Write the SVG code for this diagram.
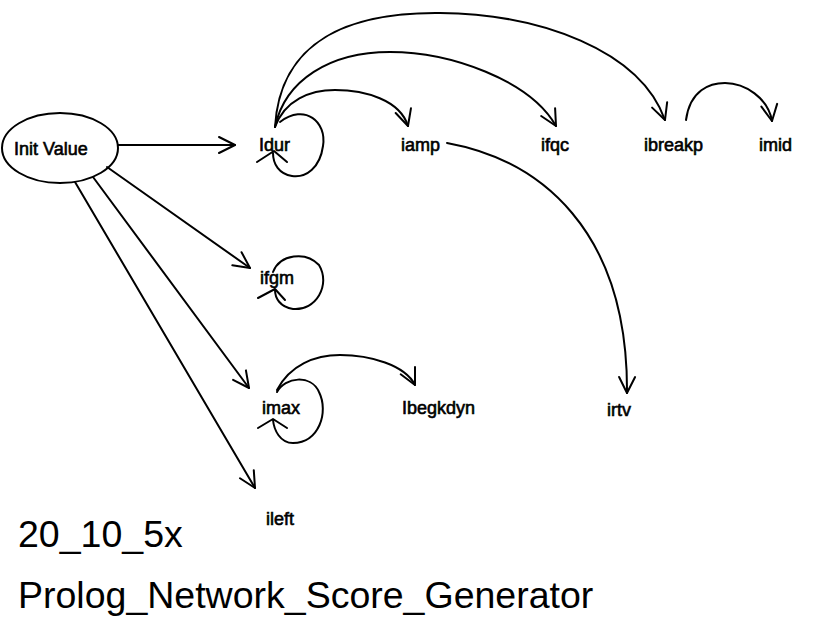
<svg xmlns="http://www.w3.org/2000/svg" width="824" height="617" viewBox="0 0 824 617">
<style>
.lbl{font-family:"Liberation Sans",Arial,sans-serif;font-size:18px;fill:#000;stroke:#000;stroke-width:0.6}
.ttl{font-family:"Liberation Sans",Arial,sans-serif;font-size:37.5px;fill:#000}
.e{fill:none;stroke:#000;stroke-width:2;stroke-linecap:round;stroke-linejoin:round}
.ea{fill:none;stroke:#000;stroke-width:2;stroke-linecap:round;stroke-linejoin:round;marker-end:url(#ah)}
</style>
<defs>
<marker id="ah" markerUnits="userSpaceOnUse" markerWidth="22" markerHeight="22" viewBox="0 0 22 22" refX="19" refY="11" orient="auto">
<path d="M3,3 L19,11 L3,19" fill="none" stroke="#000" stroke-width="2" stroke-linecap="round" stroke-linejoin="round"/>
</marker>
</defs>
<rect width="824" height="617" fill="#fff"/>
<g id="connectors">
<path class="ea" d="M118,145 L235,145"/>
<path class="ea" d="M107,167 L250,268"/>
<path class="ea" d="M93,177 L249,388"/>
<path class="ea" d="M75,182 L255,488"/>
<path class="ea" d="M275,127 C285,100 310,90 335,90 C365,90 400,100 408,126"/>
<path class="ea" d="M275,127 C285,80 330,52 390,52 C450,52 530,80 556,126"/>
<path class="ea" d="M275,127 C280,40 350,12 440,13 C540,14 640,50 665,120"/>
<path class="ea" d="M686,120 C690,90 710,83 725,83 C745,83 768,98 772,121"/>
<path class="ea" d="M447,143 C540,160 628,230 627,393"/>
<path class="ea" d="M277,390 C290,365 315,355 340,355 C370,355 405,365 415,385"/>
<path class="e" d="M280,122 C305,103 327,122 323,146 C320,168 306,178 292,176 C279,174 273,164 273,153"/>
<path class="e" d="M257,162 L274,151 L287,162"/>
<path class="e" d="M273,272 C280,254 306,251 319,265 C331,285 316,311 293,309 C280,307 275,298 275,290"/>
<path class="e" d="M258,298 L275,289 L285,300"/>
<path class="e" d="M277,392 C285,377 311,374 319,392 C329,412 319,443 293,443 C280,443 274,430 273,420"/>
<path class="e" d="M258,428 L273,419 L287,428"/>
</g>
<g id="init_value">
<ellipse cx="60" cy="148" rx="58" ry="35" fill="none" stroke="#000" stroke-width="2"/>
<text class="lbl" x="14" y="155">Init Value</text>
</g>
<g id="idur"><text class="lbl" x="259" y="151">Idur</text></g>
<g id="iamp"><text class="lbl" x="401" y="151">iamp</text></g>
<g id="ifqc"><text class="lbl" x="541" y="151">ifqc</text></g>
<g id="ibreakp"><text class="lbl" x="644" y="151">ibreakp</text></g>
<g id="imid"><text class="lbl" x="759" y="151">imid</text></g>
<g id="ifgm"><text class="lbl" x="260" y="284">ifgm</text></g>
<g id="imax"><text class="lbl" x="262" y="414">imax</text></g>
<g id="ibegkdyn"><text class="lbl" x="402" y="414">Ibegkdyn</text></g>
<g id="irtv"><text class="lbl" x="607" y="416">irtv</text></g>
<g id="ileft"><text class="lbl" x="266" y="525">ileft</text></g>
<g id="title">
<text class="ttl" x="18" y="547">20_10_5x</text>
<text class="ttl" x="18" y="608">Prolog_Network_Score_Generator</text>
</g>
</svg>
